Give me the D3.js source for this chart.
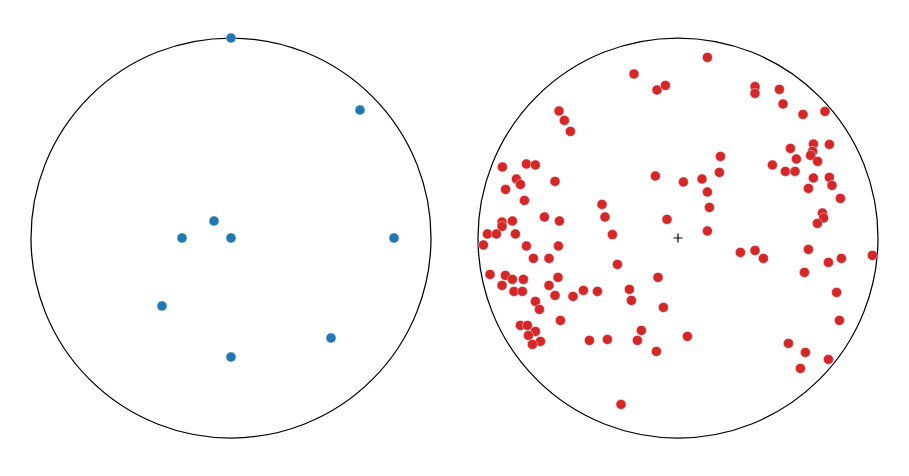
<!DOCTYPE html>
<html>
<head>
<meta charset="utf-8">
<script src="https://cdn.jsdelivr.net/npm/d3@7"></script>
<style>
  body { margin: 0; background: #fff; }
  svg { display: block; }
</style>
</head>
<body>
<div id="chart"></div>
<script>
// projected points, unit circle radius = 100, y up
var leftX = [0, 64.5, -8.5, -24.5, 0, 81.5, -34.5, 50, 0];
var leftY = [100, 64, 8.5, 0, 0, 0, -34, -50, -59.5];

var rightX = [-22, -10.5, -6.3, -59.5, -56.8, -53.8, -87.8, -75.8, -71.3, -80.8, -78.8, -61.5, -11.3, -86.2, -76.8, -38, -66.8, -59.3, -36.5, -5.5, -88, -88, -82.8, -95.3, -90.8, -81.3, -32.8,
    14.7, 38.5, 38.5, 50.7, 52.5, 62.5, 73.5, 56.2, 67.7, 75.7, 67.3, 66.3, 59.2, 69.8, 47.2, 53.7, 58.5, 67.7, 75.7, 77, 65.2, 81.2, 21.2, 20.7, 2.7, 12, 14.7, 15.7, 72.2, 72.8, 69.7, 14.7,
    -97.3, -75.8, -59.8, -72.3, -64.5, -30.3, -94, -86.3, -82.8, -77.3, -60, -10, -88, -64.5, -82, -77.8, -61.5, -52.5, -47.3, -40.3, -24.3, -23.3, -71.3, -69.3, -7.3, -58.8, -78.8, -75.3, -71.3, -74.8, -68.8, -72.8, -44.3, -35.3, -18.3, -20.3, -10.8, -28.5,
    31.2, 38.5, 42.7, 65.2, 75.2, 81.7, 97.2, 63.2, 79.3, 80.7, 4.7, 55.2, 63.7, 75.2, 61.2];
var rightY = [82, 74, 76.3, 63.5, 58.8, 53.3, 35.5, 37, 36.5, 29.5, 26.8, 28.3, 31, 24.3, 18.8, 16.8, 10.5, 8.5, 10.5, 9.3, 8, 5.8, 8.5, 2, 2, 2, 1.7,
    90.3, 75.7, 72.3, 74.3, 67, 61.8, 63.3, 44.8, 47, 46.8, 43.3, 41.3, 39.5, 38.3, 36.5, 33.3, 33.3, 30, 30.3, 26.3, 24.8, 19.8, 40.8, 32.8, 28, 29.5, 23, 15.3, 12.5, 10, 7.3, 3.5,
    -3.5, -4, -4, -10.2, -10.2, -13.2, -18.2, -18.7, -20.7, -20.7, -19.7, -19.7, -23.7, -23.7, -26.7, -26.7, -28.7, -29.2, -26.2, -26.7, -25.7, -31.2, -31.7, -35.7, -34.7, -41.2, -43.7, -43.7, -46.7, -48.7, -51.7, -53.2, -51.2, -50.7, -46.2, -51.2, -56.7, -83.2,
    -7.2, -6.2, -10.2, -5.7, -12.2, -10.2, -8.7, -17.2, -27.2, -41.2, -49.2, -52.7, -57.2, -60.7, -65.2];

var width = 909, height = 476;
var svg = d3.select("#chart").append("svg")
    .attr("width", width)
    .attr("height", height);

var panels = [
    { cx: 231, xs: leftX, ys: leftY, color: "#1f77b4", center: false },
    { cx: 678, xs: rightX, ys: rightY, color: "#d62728", center: true }
];

var R = 200, cy = 238;

panels.forEach(function(p) {
    var x = d3.scaleLinear().domain([-100, 100]).range([p.cx - R, p.cx + R]);
    var y = d3.scaleLinear().domain([-100, 100]).range([cy + R, cy - R]);
    var g = svg.append("g");

    g.append("circle")
        .attr("cx", x(0))
        .attr("cy", y(0))
        .attr("r", x(100) - x(0))
        .attr("fill", "none")
        .attr("stroke", "#000")
        .attr("stroke-width", 1.25);

    if (p.center) {
        var sym = d3.symbol().type(d3.symbolCross);
        g.append("path")
            .attr("transform", "translate(" + x(0) + "," + y(0) + ")")
            .attr("d", "M-4.5,0H4.5M0,-4.5V4.5")
            .attr("stroke", "#000")
            .attr("stroke-width", 1.2);
    }

    var pts = p.xs.map(function(v, i) { return [v, p.ys[i]]; });
    g.selectAll("circle.pt").data(pts)
        .enter().append("circle")
        .attr("class", "pt")
        .attr("cx", function(d) { return x(d[0]); })
        .attr("cy", function(d) { return y(d[1]); })
        .attr("r", 5)
        .attr("fill", p.color)
        .attr("stroke", "#fff")
        .attr("stroke-width", 0.4);
});
</script>
</body>
</html>
